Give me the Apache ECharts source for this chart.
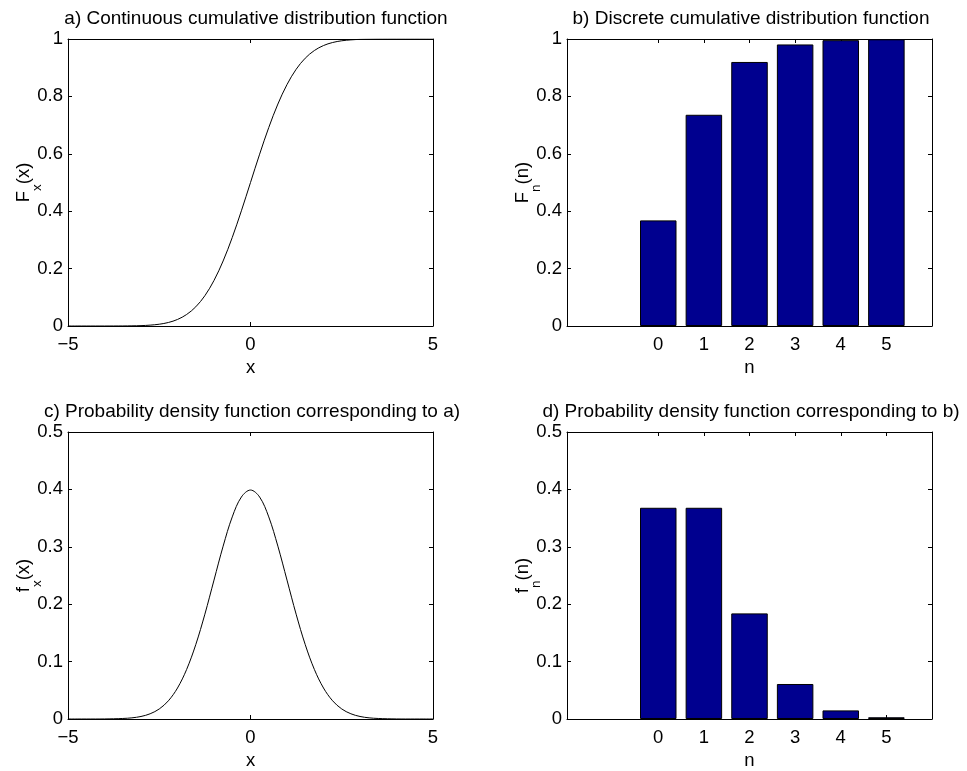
<!DOCTYPE html>
<html>
<head>
<meta charset="utf-8">
<script src="https://cdn.jsdelivr.net/npm/echarts@6/dist/echarts.min.js"></script>
<style>
  html, body { margin: 0; padding: 0; background: #fff; }
  #chart { width: 967px; height: 771px; }
</style>
</head>
<body>
<div id="chart"></div>
<script>
// Sample points of the continuous (standard normal) curves
const xs = [-5, -4.75, -4.5, -4.25, -4, -3.75, -3.5, -3.25, -3, -2.75, -2.5, -2.25, -2, -1.75, -1.5, -1.25, -1, -0.75, -0.5, -0.25,
            0, 0.25, 0.5, 0.75, 1, 1.25, 1.5, 1.75, 2, 2.25, 2.5, 2.75, 3, 3.25, 3.5, 3.75, 4, 4.25, 4.5, 4.75, 5];
const cdfCont = [0, 0, 0, 0, 0, 0.0001, 0.0002, 0.0006, 0.0013, 0.0030, 0.0062, 0.0122, 0.0228, 0.0401, 0.0668, 0.1056, 0.1587, 0.2266, 0.3085, 0.4013,
                 0.5, 0.5987, 0.6915, 0.7734, 0.8413, 0.8944, 0.9332, 0.9599, 0.9772, 0.9878, 0.9938, 0.9970, 0.9987, 0.9994, 0.9998, 0.9999, 1, 1, 1, 1, 1];
const pdfCont = [0, 0, 0, 0, 0.0001, 0.0004, 0.0009, 0.0020, 0.0044, 0.0091, 0.0175, 0.0317, 0.0540, 0.0863, 0.1295, 0.1826, 0.2420, 0.3011, 0.3521, 0.3867,
                 0.3989, 0.3867, 0.3521, 0.3011, 0.2420, 0.1826, 0.1295, 0.0863, 0.0540, 0.0317, 0.0175, 0.0091, 0.0044, 0.0020, 0.0009, 0.0004, 0.0001, 0, 0, 0, 0];

// Discrete distribution
const nValues = [0, 1, 2, 3, 4, 5];
const cdfDisc = [0.368, 0.736, 0.920, 0.981, 0.996, 0.999];
const pmfDisc = [0.368, 0.368, 0.184, 0.061, 0.015, 0.003];

// Axis ticks
const contXTicks = { min: -5, max: 5, interval: 5 };
const discXRange = { min: -2, max: 6 };
const cdfYTicks = { min: 0, max: 1, interval: 0.2 };
const pdfYTicks = { min: 0, max: 0.5, interval: 0.1 };

const titles = [
  'a) Continuous cumulative distribution function',
  'b) Discrete cumulative distribution function',
  'c) Probability density function corresponding to a)',
  'd) Probability density function corresponding to b)'
];

const FONT = "'Liberation Sans', Arial, Helvetica, sans-serif";
const TICK_FONT = 18.5;
const BAR_COLOR = '#00008f';

const panels = [
  { grid: { left: 68, top: 39, width: 365, height: 287 }, titleX: 256, titleTop: 9 },
  { grid: { left: 567, top: 39, width: 365, height: 287 }, titleX: 751, titleTop: 9 },
  { grid: { left: 68, top: 432, width: 365, height: 287 }, titleX: 252, titleTop: 402 },
  { grid: { left: 567, top: 432, width: 365, height: 287 }, titleX: 751, titleTop: 402 }
];

const minusFmt = v => (v < 0 ? '\u2212' + Math.abs(v) : String(v));

// y-axis names with a subscript: F_x(x), F_n(n), f_x(x), f_n(n)
const richName = {
  m: { fontSize: 18.5, fontFamily: FONT, color: '#000', lineHeight: 19, verticalAlign: 'top' },
  s: { fontSize: 13.5, fontFamily: FONT, color: '#000', lineHeight: 14, verticalAlign: 'top', padding: [16, 0, 0, 0] }
};
const yName = (main, sub, arg) => `{m|${main}}{s|${sub}}{m|(${arg})}`;

const lineStyleAxis = { color: '#000', width: 1 };

function xAxisFor(gridIndex, kind, mirror, name) {
  const base = {
    gridIndex,
    type: 'value',
    position: mirror ? 'top' : 'bottom',
    axisLine: { show: true, onZero: false, lineStyle: lineStyleAxis },
    splitLine: { show: false },
    axisTick: { show: true, inside: true, length: 4, lineStyle: lineStyleAxis },
    axisLabel: { show: !mirror, color: '#000', fontSize: TICK_FONT, fontFamily: FONT, margin: 9, formatter: minusFmt }
  };
  if (kind === 'cont') {
    Object.assign(base, contXTicks);
  } else {
    Object.assign(base, discXRange, { interval: 1 });
    base.axisTick.customValues = nValues;
    base.axisLabel.customValues = nValues;
  }
  if (!mirror) {
    base.name = name;
    base.nameLocation = 'middle';
    base.nameGap = 32;
    base.nameMoveOverlap = false;
    base.nameTextStyle = { fontSize: 18.5, fontFamily: FONT, color: '#000' };
  }
  return base;
}

function yAxisFor(gridIndex, ticks, mirror, name) {
  const base = Object.assign({
    gridIndex,
    type: 'value',
    position: mirror ? 'right' : 'left',
    axisLine: { show: true, onZero: false, lineStyle: lineStyleAxis },
    splitLine: { show: false },
    axisTick: { show: true, inside: true, length: 4, lineStyle: lineStyleAxis },
    axisLabel: { show: !mirror, color: '#000', fontSize: TICK_FONT, fontFamily: FONT, margin: 5 }
  }, ticks);
  if (!mirror) {
    base.name = name;
    base.nameLocation = 'middle';
    base.nameRotate = 90;
    base.nameGap = 35;
    base.nameMoveOverlap = false;
    base.nameTextStyle = { rich: richName };
  }
  return base;
}

const xAxes = [], yAxes = [], series = [];

// a) continuous CDF
xAxes.push(xAxisFor(0, 'cont', false, 'x'), xAxisFor(0, 'cont', true));
yAxes.push(yAxisFor(0, cdfYTicks, false, yName('F', 'x', 'x')), yAxisFor(0, cdfYTicks, true));
series.push({
  type: 'line', xAxisIndex: 0, yAxisIndex: 0, showSymbol: false, symbol: 'none',
  smooth: 0.35,
  lineStyle: { color: '#000', width: 1 },
  data: xs.map((x, i) => [x, cdfCont[i]])
});

// b) discrete CDF
xAxes.push(xAxisFor(1, 'disc', false, 'n'), xAxisFor(1, 'disc', true));
yAxes.push(yAxisFor(1, cdfYTicks, false, yName('F', 'n', 'n')), yAxisFor(1, cdfYTicks, true));
series.push({
  type: 'bar', xAxisIndex: 2, yAxisIndex: 2, barWidth: '80%',
  itemStyle: { color: BAR_COLOR, borderColor: '#000', borderWidth: 1 },
  data: nValues.map((n, i) => [n, cdfDisc[i]])
});

// c) continuous PDF
xAxes.push(xAxisFor(2, 'cont', false, 'x'), xAxisFor(2, 'cont', true));
yAxes.push(yAxisFor(2, pdfYTicks, false, yName('f', 'x', 'x')), yAxisFor(2, pdfYTicks, true));
series.push({
  type: 'line', xAxisIndex: 4, yAxisIndex: 4, showSymbol: false, symbol: 'none',
  smooth: 0.35,
  lineStyle: { color: '#000', width: 1 },
  data: xs.map((x, i) => [x, pdfCont[i]])
});

// d) discrete PMF
xAxes.push(xAxisFor(3, 'disc', false, 'n'), xAxisFor(3, 'disc', true));
yAxes.push(yAxisFor(3, pdfYTicks, false, yName('f', 'n', 'n')), yAxisFor(3, pdfYTicks, true));
series.push({
  type: 'bar', xAxisIndex: 6, yAxisIndex: 6, barWidth: '80%',
  itemStyle: { color: BAR_COLOR, borderColor: '#000', borderWidth: 1 },
  data: nValues.map((n, i) => [n, pmfDisc[i]])
});

const chart = echarts.init(document.getElementById('chart'), null, { renderer: 'canvas' });
chart.setOption({
  backgroundColor: '#fff',
  animation: false,
  title: panels.map((p, i) => ({
    text: titles[i],
    left: p.titleX,
    top: p.titleTop,
    textAlign: 'center',
    padding: 0,
    textStyle: { fontSize: 19, fontWeight: 'normal', fontFamily: FONT, color: '#000' }
  })),
  grid: panels.map(p => Object.assign({ containLabel: false }, p.grid)),
  xAxis: xAxes,
  yAxis: yAxes,
  series
});
</script>
</body>
</html>
